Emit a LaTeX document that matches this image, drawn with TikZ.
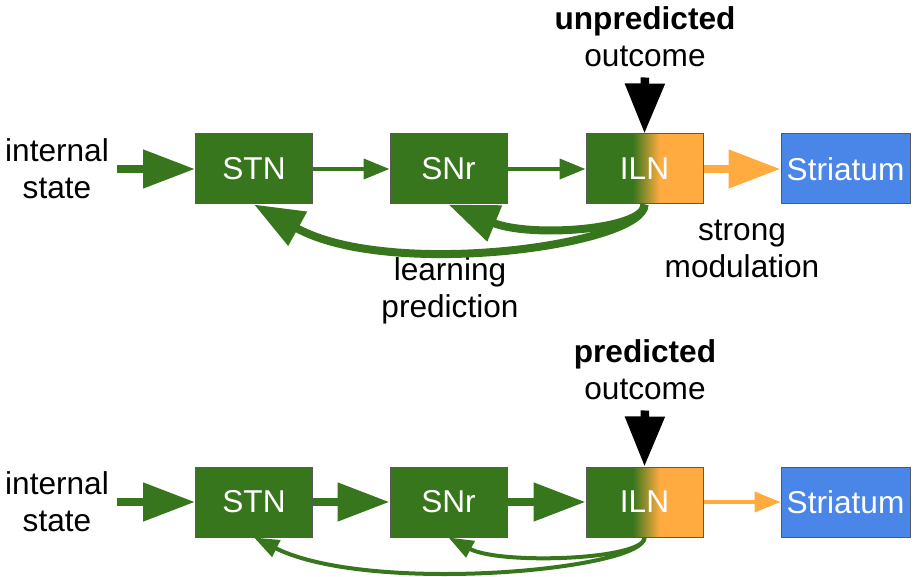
\documentclass[tikz,border=0pt]{standalone}
\usepackage{fontspec}
\setmainfont{Liberation Sans}
\usetikzlibrary{arrows.meta}

\definecolor{slgreen}{HTML}{38761D}
\definecolor{slorange}{HTML}{FFAB40}
\definecolor{slblue}{HTML}{4A86E8}
\definecolor{boxborder}{HTML}{595959}
\pgfdeclarehorizontalshading{ilnshade}{100bp}{color(0bp)=(slgreen); color(45bp)=(slgreen); color(56.5bp)=(slorange); color(100bp)=(slorange)}

\tikzset{
    box/.style={draw=boxborder,line width=0.5pt,fill=slgreen,text=white,minimum width=58.5pt,minimum height=35pt,inner sep=0pt},
    ilnbox/.style={box,shade,shading=ilnshade},
    striatumbox/.style={box,fill=slblue,minimum width=64.5pt},
    label/.style={align=center,inner sep=0pt},
    thickarrow/.style={line width=4pt,-{Triangle[length=26pt,width=18.5pt]}},
    thinarrow/.style={line width=2pt,-{Triangle[length=13pt,width=10pt]}},
    outcomearrow/.style={line width=4.25pt,-{Triangle[length=25pt,width=19pt]},shorten <=5pt},
    fbthick/.style={draw=slgreen,line width=4pt,-{Triangle[length=25pt,width=18.5pt]}},
    fbthin/.style={draw=slgreen,line width=2pt,-{Triangle[length=12.5pt,width=9pt]}}
}

\begin{document}
\begin{tikzpicture}[x=0.5pt,y=-0.5pt,font=\fontsize{15.8pt}{18.5pt}\selectfont]
    \pgfmathsetmacro{\toprow}{169}
    \pgfmathsetmacro{\bottomrow}{502}
    \useasboundingbox (0,0) rectangle (916,577);
    % unpredicted outcome
    \node[label,inner sep=4pt](instateA) at (57,\toprow) {internal\\state};
    \node[box](stnA) at (254,\toprow) {STN};
    \node[box](snrA) at (448.5,\toprow) {SNr};
    \node[ilnbox](ilnA) at (644.5,\toprow) {ILN};
    \node[striatumbox](striatumA) at (845.5,\toprow) {Striatum};
    \node[label](outcomeA) at (645,37) {\textbf{unpredicted}\\outcome};
    \node[label](learn) at (450,291) {learning\\prediction};
    \node[label](modul) at (742,249) {strong\\modulation};
    \draw[thickarrow,slgreen] (instateA.east) -- (stnA.west);
    \draw[thinarrow,slgreen] (stnA.east) -- (snrA.west);
    \draw[thinarrow,slgreen] (snrA.east) -- (ilnA.west);
    \draw[thickarrow,slorange] (ilnA.east) -- (striatumA.west);
    \draw[outcomearrow] (outcomeA.south) -- (ilnA.north);
    \draw[fbthick] (ilnA.south) .. controls (645,230) and (530,238) .. (snrA.south);
    \draw[fbthick] (ilnA.south) .. controls (645,245) and (390,280) .. (stnA.south);
    % predicted outcome
    \node[label,inner sep=4pt](instateB) at (57,\bottomrow) {internal\\state};
    \node[box](stnB) at (254,\bottomrow) {STN};
    \node[box](snrB) at (448.5,\bottomrow) {SNr};
    \node[ilnbox](ilnB) at (644.5,\bottomrow) {ILN};
    \node[striatumbox](striatumB) at (845.5,\bottomrow) {Striatum};
    \node[label](outcomeB) at (645,370) {\textbf{predicted}\\outcome};
    \draw[thickarrow,slgreen] (instateB.east) -- (stnB.west);
    \draw[thickarrow,slgreen] (stnB.east) -- (snrB.west);
    \draw[thickarrow,slgreen] (snrB.east) -- (ilnB.west);
    \draw[thinarrow,slorange] (ilnB.east) -- (striatumB.west);
    \draw[outcomearrow] (outcomeB.south) -- (ilnB.north);
    \draw[fbthin] (ilnB.south) .. controls (645,560) and (500,565) .. (snrB.south);
    \draw[fbthin] (ilnB.south) .. controls (645,570) and (370,595) .. (stnB.south);
\end{tikzpicture}
\end{document}
